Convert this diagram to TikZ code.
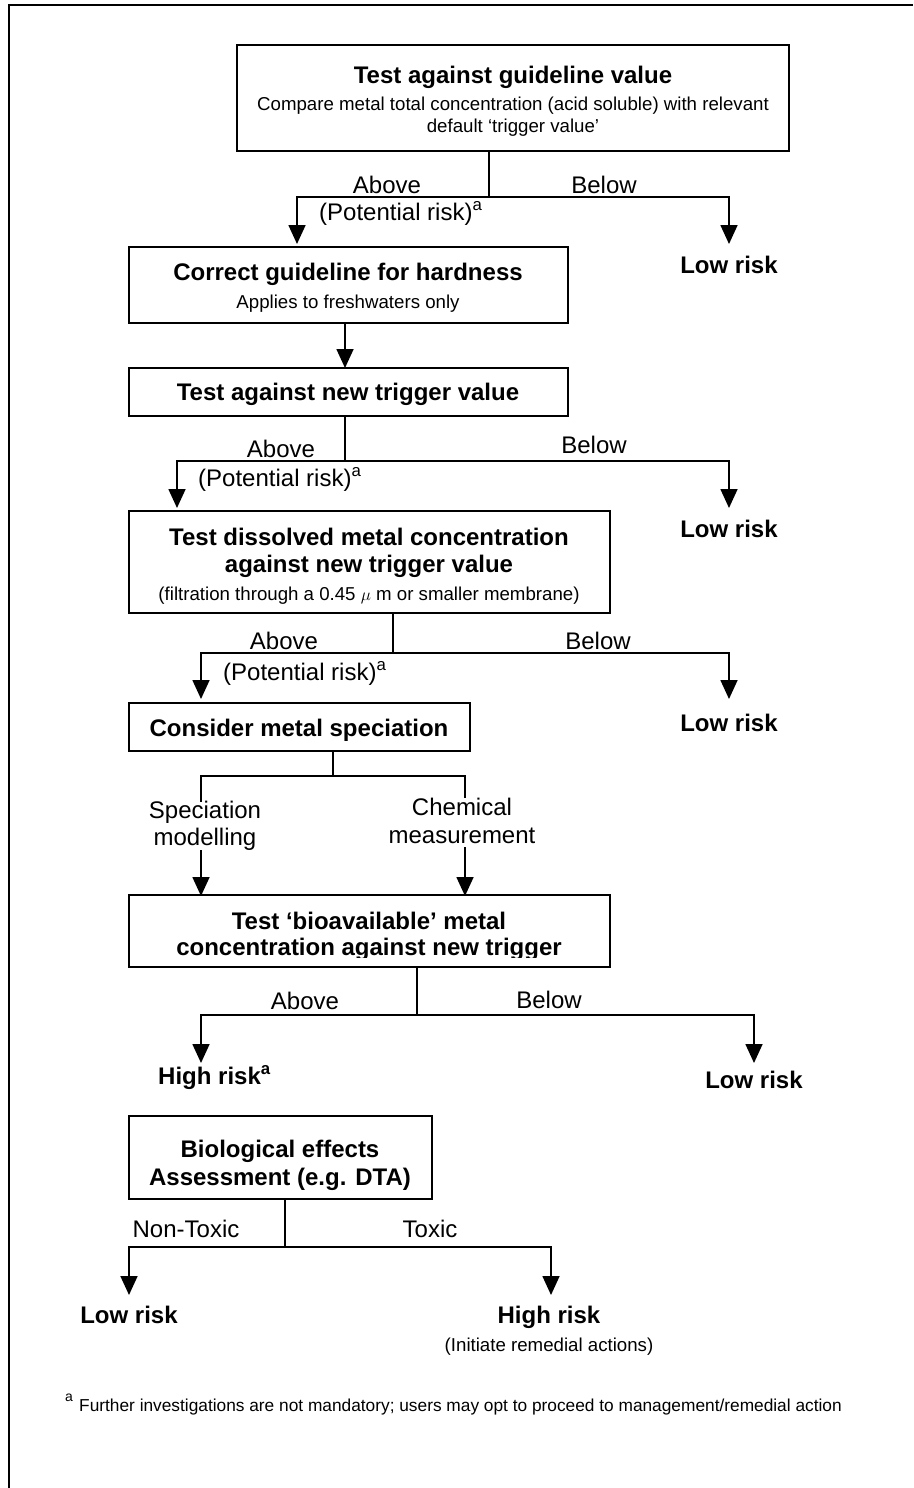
\documentclass[tikz,border=0pt]{standalone}
\usepackage{fontspec}
\setmainfont{Liberation Sans}
\usetikzlibrary{arrows.meta}
\begin{document}
\begin{tikzpicture}[x=1pt,y=-1pt,
  box/.style={draw, line width=2pt, inner sep=0pt, outer sep=0pt},
  hd/.style={font=\fontsize{24}{28}\selectfont\bfseries, inner sep=0pt, anchor=base},
  lb/.style={font=\fontsize{24}{28}\selectfont, inner sep=0pt, anchor=base},
  sm/.style={font=\fontsize{18.67}{22}\selectfont, inner sep=0pt, anchor=base},
  fn/.style={font=\fontsize{17.3}{20}\selectfont, inner sep=0pt, anchor=base west},
  conn/.style={line width=1.7pt},
  arr/.style={conn, -{Triangle[width=17pt,length=19pt]}},
]
\useasboundingbox (0,0) rectangle (913,1488);
% page frame
\draw[line width=2pt] (9,1488) -- (9,5) -- (913,5);

% ---------- boxes ----------
\node[box, minimum width=552pt, minimum height=106pt] (b1) at (513,98) {};
\node[box, minimum width=439pt, minimum height=76pt]  (b2) at (348.5,285) {};
\node[box, minimum width=439pt, minimum height=48pt]  (b3) at (348.5,392) {};
\node[box, minimum width=481pt, minimum height=102pt] (b4) at (369.5,562) {};
\node[box, minimum width=341pt, minimum height=48pt]  (b5) at (299.5,727) {};
\node[box, minimum width=481pt, minimum height=72pt]  (b6) at (369.5,931) {};
\node[box, minimum width=303pt, minimum height=83pt]  (b7) at (280.5,1157.5) {};

% ---------- box texts ----------
\node[hd] (t1a) at (513,83)  {Test against guideline value};
\node[sm] (t1b) at (513,110) {Compare metal total concentration (acid soluble) with relevant};
\node[sm] (t1c) at (513,132) {default ‘trigger value’};

\node[hd] (t2a) at (348,280) {Correct guideline for hardness};
\node[sm] (t2b) at (348,308) {Applies to freshwaters only};

\node[hd] (t3) at (348,400) {Test against new trigger value};

\node[hd] (t4a) at (369,545) {Test dissolved metal concentration};
\node[hd] (t4b) at (369,572) {against new trigger value};
\node[sm] (t4c) at (369,600) {(filtration through a 0.45 $\mu$ m or smaller membrane)};

\node[hd] (t5) at (299,736) {Consider metal speciation};

\node[hd] (t6a) at (369,929) {Test ‘bioavailable’ metal};
\begin{scope}
  \clip (129,895) rectangle (610,957);
  \node[hd] (t6b) at (369,955) {concentration against new trigger};
\end{scope}

\node[hd] (t7a) at (280,1157) {Biological effects};
\node[hd] (t7b) at (280,1185) {Assessment (e.g. DTA)};

% ---------- split 1 ----------
\coordinate (s1) at (489,197);
\coordinate (a1L) at (297,244);
\coordinate (a1R) at (729,244);
\draw[conn] (b1.south -| s1) -- (s1);
\draw[arr] (s1) -| (a1L);
\draw[arr] (s1) -| (a1R);
\node[lb] (ab1) at (387,193) {Above};
\node[lb] (be1) at (604,193) {Below};
\node[lb, anchor=base west] (pr1) at (319,220) {(Potential risk)\textsuperscript{a}};
\node[hd] (lr1) at (729,273) {Low risk};

% ---------- b2 -> b3 ----------
\coordinate (c23) at (345,323);
\draw[arr] (c23) -- (c23 |- b3.north);

% ---------- split 2 ----------
\coordinate (s2) at (345,461);
\coordinate (a2L) at (177,508);
\coordinate (a2R) at (729,508);
\draw[conn] (b3.south -| s2) -- (s2);
\draw[arr] (s2) -| (a2L);
\draw[arr] (s2) -| (a2R);
\node[lb] (ab2) at (281,457) {Above};
\node[lb] (be2) at (594,453) {Below};
\node[lb, anchor=base west] (pr2) at (198,486) {(Potential risk)\textsuperscript{a}};
\node[hd] (lr2) at (729,537) {Low risk};

% ---------- split 3 ----------
\coordinate (s3) at (393,653);
\coordinate (a3L) at (201,699);
\coordinate (a3R) at (729,699);
\draw[conn] (b4.south -| s3) -- (s3);
\draw[arr] (s3) -| (a3L);
\draw[arr] (s3) -| (a3R);
\node[lb] (ab3) at (284,649) {Above};
\node[lb] (be3) at (598,649) {Below};
\node[lb, anchor=base west] (pr3) at (223,680) {(Potential risk)\textsuperscript{a}};
\node[hd] (lr3) at (729,731) {Low risk};

% ---------- split 4 (speciation routes) ----------
\coordinate (s4) at (333,776);
\coordinate (e4L) at (201,802);
\coordinate (e4R) at (465,798);
\coordinate (m4L) at (201,850);
\coordinate (m4R) at (465,847);
\draw[conn] (b5.south -| s4) -- (s4);
\draw[conn] (s4) -| (e4L);
\draw[conn] (s4) -| (e4R);
\node[lb] (sp1) at (205,818) {Speciation};
\node[lb] (sp2) at (205,845) {modelling};
\node[lb] (ch1) at (462,815) {Chemical};
\node[lb] (ch2) at (462,843) {measurement};
\draw[arr] (m4L) -- ([yshift=-1pt]m4L |- b6.north);
\draw[arr] (m4R) -- ([yshift=-1pt]m4R |- b6.north);

% ---------- split 5 ----------
\coordinate (s5) at (417,1015);
\coordinate (a5L) at (201,1063);
\coordinate (a5R) at (754,1063);
\draw[conn] (b6.south -| s5) -- (s5);
\draw[arr] (s5) -| (a5L);
\draw[arr] (s5) -| (a5R);
\node[lb] (ab5) at (305,1009) {Above};
\node[lb] (be5) at (549,1008) {Below};
\node[hd, anchor=base west] (hr1) at (158,1084) {High risk\textsuperscript{a}};
\node[hd] (lr5) at (754,1088) {Low risk};

% ---------- split 6 ----------
\coordinate (s6) at (285,1247);
\coordinate (a6L) at (129,1295);
\coordinate (a6R) at (551,1295);
\draw[conn] (b7.south -| s6) -- (s6);
\draw[arr] (s6) -| (a6L);
\draw[arr] (s6) -| (a6R);
\node[lb] (nt) at (186,1237) {Non-Toxic};
\node[lb] (tx) at (430,1237) {Toxic};
\node[hd] (lr6) at (129,1323) {Low risk};
\node[hd] (hr2) at (549,1323) {High risk};
\node[sm] (ini) at (549,1351) {(Initiate remedial actions)};

% ---------- footnote ----------
\node[font=\fontsize{14}{16}\selectfont, inner sep=0pt, anchor=base west] (fna) at (65,1401) {a};
\node[fn] (fnt) at (79,1411) {Further investigations are not mandatory; users may opt to proceed to management/remedial action};
\end{tikzpicture}
\end{document}
